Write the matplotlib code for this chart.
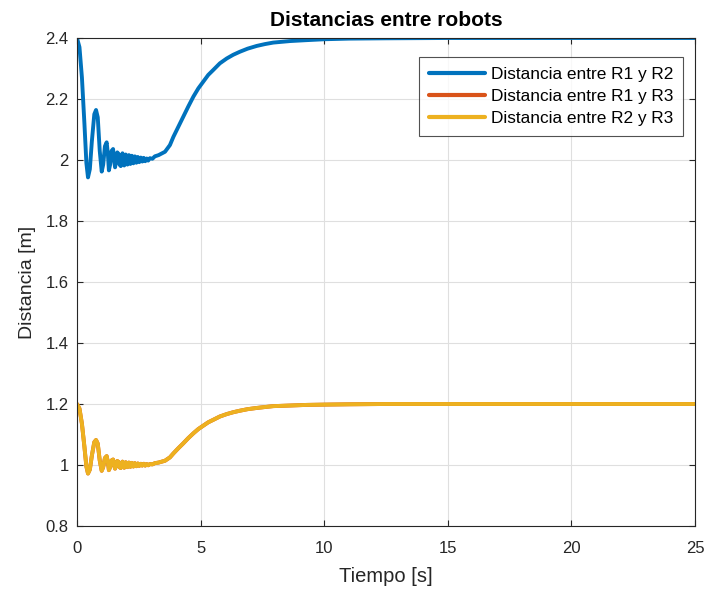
import matplotlib.pyplot as plt
from matplotlib.ticker import FuncFormatter

# Tiempo [s]
t = [0.0, 0.10, 0.20, 0.30, 0.38, 0.445, 0.52, 0.60, 0.70, 0.77, 0.84, 0.92,
     1.00, 1.06, 1.13, 1.20, 1.25, 1.29, 1.34, 1.40, 1.46, 1.50, 1.54, 1.58,
     1.63, 1.68, 1.72, 1.77, 1.84, 1.91, 1.97, 2.04, 2.10, 2.16, 2.22, 2.28,
     2.34, 2.40, 2.46, 2.52, 2.58, 2.64, 2.70, 2.76, 2.82, 2.88, 2.95, 3.05,
     3.15, 3.30, 3.56, 3.76, 3.90, 4.10, 4.30, 4.50, 4.71, 4.91, 5.11, 5.31,
     5.51, 5.78, 6.06, 6.32, 6.59, 6.90, 7.27, 7.60, 7.94, 8.62, 9.29, 10.03,
     11.0, 12.5, 15.0, 20.0, 25.0]

# Distancia entre R1 y R2 [m]
d12 = [2.400, 2.370, 2.270, 2.120, 1.990, 1.943, 1.970, 2.060, 2.150, 2.164, 2.140, 2.030,
       1.962, 1.985, 2.045, 2.058, 2.020, 1.966, 1.985, 2.030, 2.036, 2.000, 1.976, 1.995,
       2.025, 2.020, 1.985, 1.980, 2.022, 1.982, 2.018, 1.985, 2.016, 1.987, 2.014, 1.989,
       2.012, 1.991, 2.010, 1.993, 2.008, 1.995, 2.007, 1.996, 2.005, 1.998, 2.006, 2.004,
       2.012, 2.016, 2.027, 2.049, 2.076, 2.109, 2.142, 2.175, 2.208, 2.235, 2.257, 2.279,
       2.295, 2.317, 2.333, 2.345, 2.355, 2.365, 2.374, 2.380, 2.385, 2.390, 2.393, 2.396,
       2.398, 2.399, 2.400, 2.400, 2.400]

# Distancia entre R1 y R3 [m]
d13 = [1.200, 1.185, 1.135, 1.060, 0.995, 0.972, 0.985, 1.030, 1.075, 1.082, 1.070, 1.015,
       0.981, 0.993, 1.023, 1.029, 1.010, 0.983, 0.993, 1.015, 1.018, 1.000, 0.988, 0.998,
       1.013, 1.010, 0.993, 0.990, 1.011, 0.991, 1.009, 0.993, 1.008, 0.994, 1.007, 0.995,
       1.006, 0.996, 1.005, 0.997, 1.004, 0.998, 1.004, 0.998, 1.003, 0.999, 1.003, 1.002,
       1.006, 1.008, 1.014, 1.025, 1.038, 1.055, 1.071, 1.088, 1.104, 1.118, 1.129, 1.140,
       1.148, 1.159, 1.167, 1.173, 1.178, 1.183, 1.187, 1.190, 1.193, 1.195, 1.197, 1.198,
       1.199, 1.200, 1.200, 1.200, 1.200]

# Distancia entre R2 y R3 [m]
d23 = [1.200, 1.185, 1.135, 1.060, 0.995, 0.972, 0.985, 1.030, 1.075, 1.082, 1.070, 1.015,
       0.981, 0.993, 1.023, 1.029, 1.010, 0.983, 0.993, 1.015, 1.018, 1.000, 0.988, 0.998,
       1.013, 1.010, 0.993, 0.990, 1.011, 0.991, 1.009, 0.993, 1.008, 0.994, 1.007, 0.995,
       1.006, 0.996, 1.005, 0.997, 1.004, 0.998, 1.004, 0.998, 1.003, 0.999, 1.003, 1.002,
       1.006, 1.008, 1.014, 1.025, 1.038, 1.055, 1.071, 1.088, 1.104, 1.118, 1.129, 1.140,
       1.148, 1.159, 1.167, 1.173, 1.178, 1.183, 1.187, 1.190, 1.193, 1.195, 1.197, 1.198,
       1.199, 1.200, 1.200, 1.200, 1.200]

labels = ["Distancia entre R1 y R2", "Distancia entre R1 y R3", "Distancia entre R2 y R3"]
colors = ["#0072BD", "#D95319", "#EDB120"]

plt.rcParams['font.family'] = ['Liberation Sans', 'DejaVu Sans']

fig = plt.figure(figsize=(7.07, 5.92), dpi=100)
ax = fig.add_axes([0.1089, 0.1115, 0.8741, 0.8243])

for y, lab, c in zip([d12, d13, d23], labels, colors):
    ax.plot(t, y, color=c, lw=2.8, label=lab,
            solid_joinstyle='round', solid_capstyle='round')

ax.set_xlim(0, 25)
ax.set_ylim(0.8, 2.4)
ax.set_xticks([0, 5, 10, 15, 20, 25])
ax.set_yticks([0.8, 1.0, 1.2, 1.4, 1.6, 1.8, 2.0, 2.2, 2.4])
ax.yaxis.set_major_formatter(FuncFormatter(lambda v, p: "%g" % round(v, 2)))

ax.grid(True, color="#dfdfdf", lw=0.8)
ax.set_axisbelow(True)
for s in ax.spines.values():
    s.set_color("#262626")
    s.set_linewidth(0.8)
ax.tick_params(direction='in', length=4, width=0.8, colors="#262626",
               labelsize=12, top=True, right=True)
ax.tick_params(axis='x', pad=11)
ax.tick_params(axis='y', pad=6)

ax.set_xlabel("Tiempo [s]", fontsize=14.5, color="#262626", labelpad=8)
ax.set_ylabel("Distancia [m]", fontsize=14, color="#262626", labelpad=7)
ax.set_title("Distancias entre robots", fontsize=15, fontweight='bold', pad=9)

leg = ax.legend(loc='upper right', bbox_to_anchor=(0.981, 0.961), fontsize=12.4,
                frameon=True, fancybox=False, handlelength=3.2, borderpad=0.6,
                labelspacing=0.38, handletextpad=0.35, borderaxespad=0)
leg.get_frame().set_edgecolor("#262626")
leg.get_frame().set_linewidth(0.8)
for line in leg.get_lines():
    line.set_linewidth(3)

fig.savefig("out.png", dpi=100)
